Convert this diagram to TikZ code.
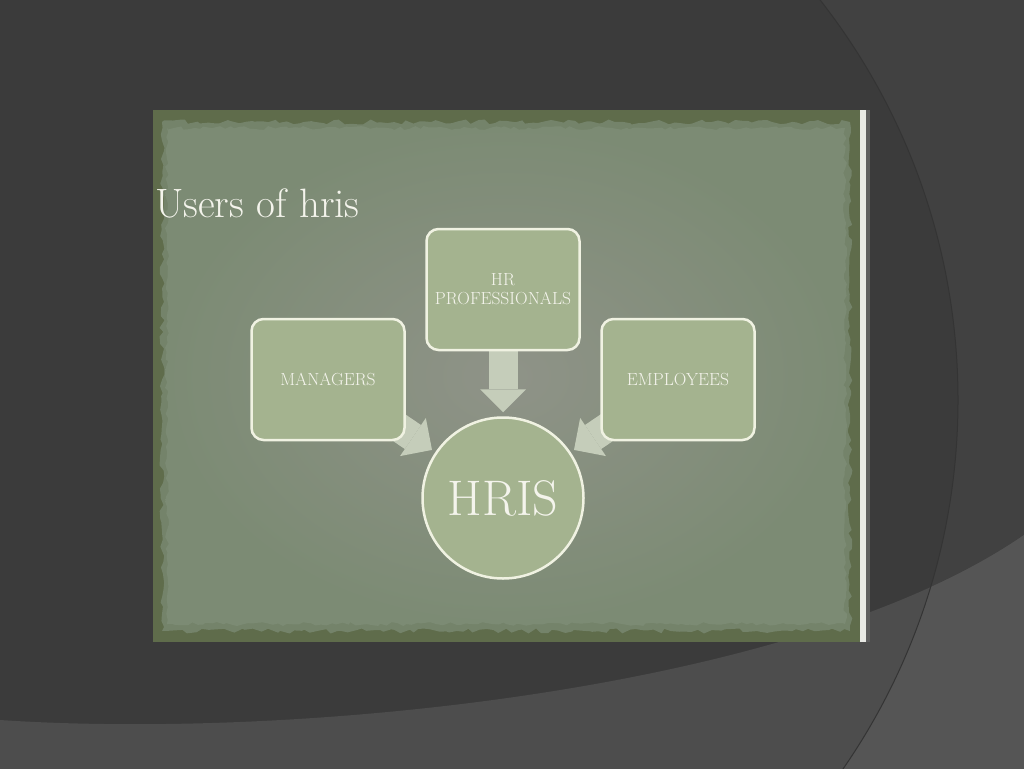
\documentclass[tikz,border=0pt]{standalone}
\usetikzlibrary{arrows.meta,decorations.pathmorphing,positioning}
\definecolor{slide}{HTML}{3B3B3B}
\definecolor{slideout}{HTML}{414141}
\definecolor{slidelow}{HTML}{4D4D4D}
\definecolor{slidelowout}{HTML}{555555}
\definecolor{arcline}{HTML}{343434}
\definecolor{frame}{HTML}{5F6C4B}
\definecolor{parchmid}{HTML}{74836A}
\definecolor{parchin}{HTML}{8F9388}
\definecolor{parchout}{HTML}{7C8B74}
\definecolor{strip}{HTML}{E8E9E4}
\definecolor{stripshadow}{HTML}{5E5E5E}
\definecolor{boxfill}{HTML}{A4B38F}
\definecolor{boxline}{HTML}{F0F2E2}
\definecolor{boxtext}{HTML}{F4F4EC}
\definecolor{arrowfill}{HTML}{C5CDBA}
\pgfdeclarelayer{slidebg}
\pgfdeclarelayer{links}
\pgfsetlayers{slidebg,links,main}
\tikzset{
  usr/.style={draw=boxline, line width=2.5pt, fill=boxfill, rounded corners=12pt,
    minimum width=153pt, minimum height=121pt, align=center, text=boxtext,
    font=\fontsize{17.5}{19}\selectfont},
  core/.style={circle, draw=boxline, line width=2.5pt, fill=boxfill,
    minimum size=161pt, text=boxtext, font=\fontsize{50}{55}\selectfont},
  push/.style={draw=arrowfill, line width=29pt,
    -{Triangle[width=46pt,length=23pt,line width=0pt]}, shorten >=4pt}
}
\begin{document}
\begin{tikzpicture}[x=1pt,y=-1pt]
\useasboundingbox (0,0) rectangle (1024,768);
\begin{pgfonlayer}{slidebg}
  \fill[slide] (-5,-5) rectangle (1029,773); % slide
  \fill[slideout, even odd rule] (-5,-5) rectangle (1029,773) (309,400) circle[radius=649];
  \fill[slidelow] (0,720) .. controls (300,740) and (800,690) .. (1024,535) -- (1029,535) -- (1029,773) -- (-5,773) -- (-5,720) -- cycle;
  \begin{scope}
    \clip (0,720) .. controls (300,740) and (800,690) .. (1024,535) -- (1029,535) -- (1029,773) -- (-5,773) -- (-5,720) -- cycle;
    \fill[slidelowout, even odd rule] (-5,-5) rectangle (1029,773) (309,400) circle[radius=649];
  \end{scope}
  \draw[arcline, line width=1pt] (309,400) circle[radius=649];
  % picture with torn paper
  \fill[frame] (153,110) rectangle (860,642);
  \pgfmathsetseed{7}
  \fill[parchmid, decorate, decoration={random steps, segment length=6pt, amplitude=2.5pt}]
    (162,122) rectangle (850,631);
  \shade[decorate, decoration={random steps, segment length=5pt, amplitude=2pt},
    inner color=parchin, outer color=parchout] (167,128) rectangle (845,624);
  \fill[strip] (860,110) rectangle (866,642);
  \fill[stripshadow] (866,110) rectangle (870,642);
\end{pgfonlayer}
\node[anchor=base west, text=boxtext, font=\fontsize{41}{46}\selectfont, inner sep=0pt]
  (title) at (155,217) {Users of hris};
\node[usr] (hr) at (503,289.5) {HR\\PROFESSIONALS};
\node[usr] (mgr) at (328,379.5) {MANAGERS};
\node[usr] (emp) at (678,379.5) {EMPLOYEES};
\node[core] (hris) at (503,498) {HRIS};
\begin{pgfonlayer}{links}
  \draw[push] (hr) -- (hris);
  \draw[push] (mgr.center) -- (hris);
  \draw[push] (emp.center) -- (hris);
\end{pgfonlayer}
\end{tikzpicture}
\end{document}
